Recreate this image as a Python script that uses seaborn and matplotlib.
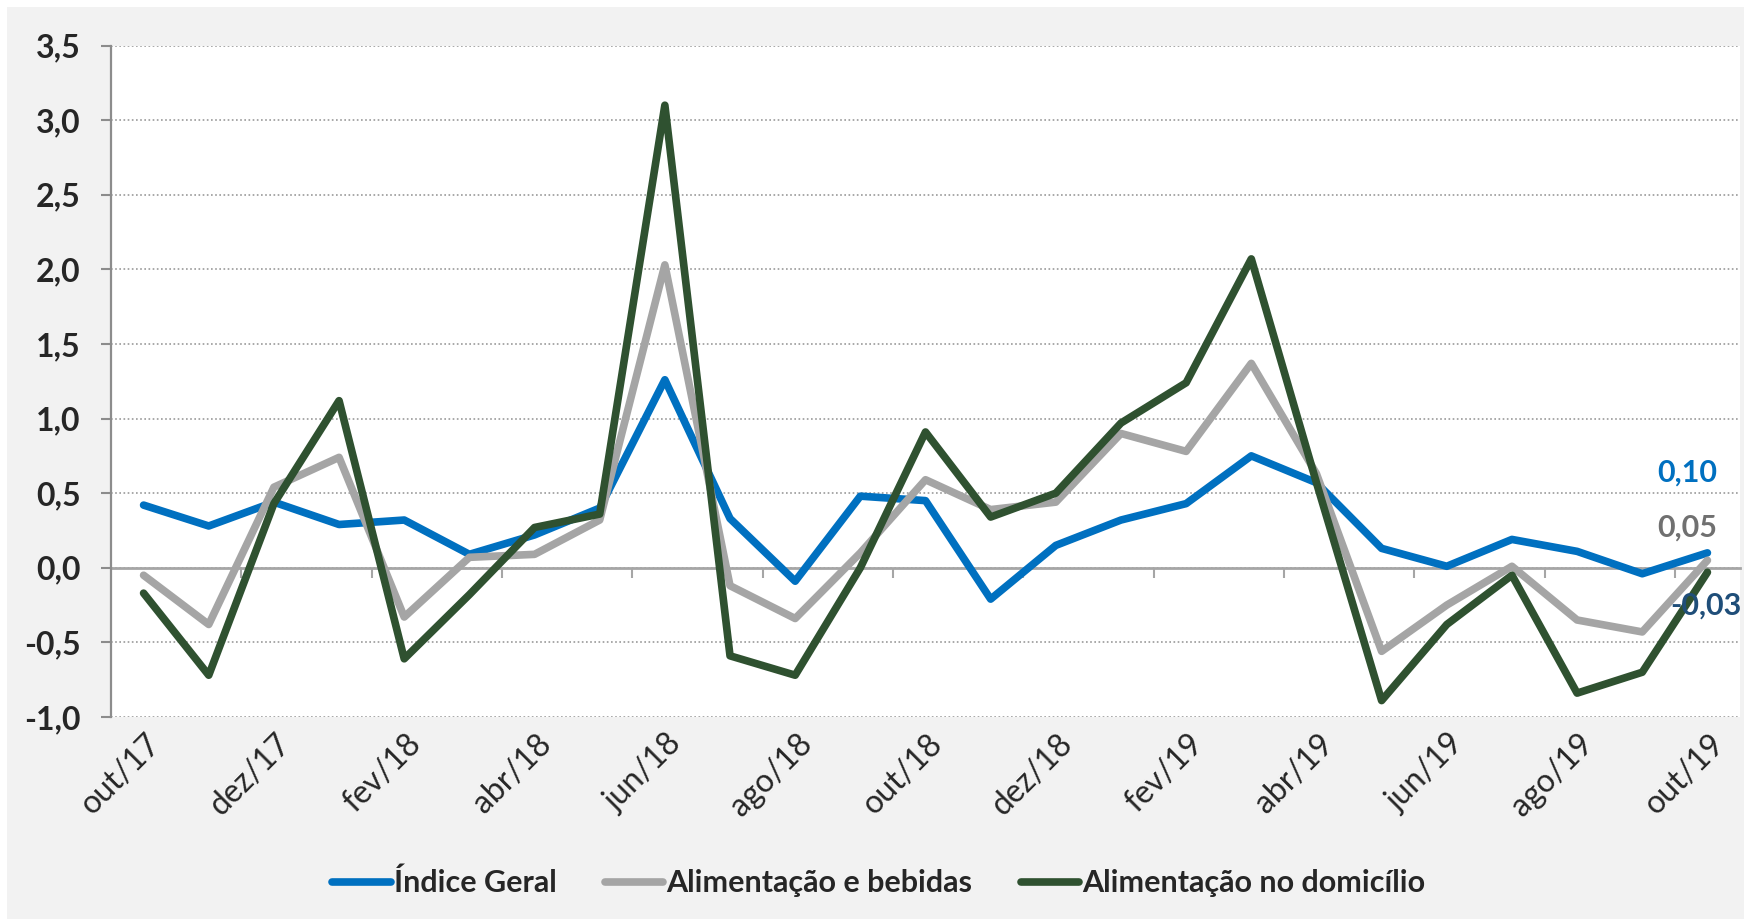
import numpy as np
import pandas as pd
import matplotlib
matplotlib.use("Agg")
import matplotlib.pyplot as plt
import matplotlib.transforms as mtransforms
from matplotlib.patches import Rectangle
import seaborn as sns

# monthly variation (%), out/17 .. out/19
meses = ["out/17", "nov/17", "dez/17", "jan/18", "fev/18", "mar/18", "abr/18",
         "mai/18", "jun/18", "jul/18", "ago/18", "set/18", "out/18", "nov/18",
         "dez/18", "jan/19", "fev/19", "mar/19", "abr/19", "mai/19", "jun/19",
         "jul/19", "ago/19", "set/19", "out/19"]
indice_geral = [0.42, 0.28, 0.44, 0.29, 0.32, 0.09, 0.22, 0.40, 1.26, 0.33, -0.09,
                0.48, 0.45, -0.21, 0.15, 0.32, 0.43, 0.75, 0.57, 0.13, 0.01, 0.19,
                0.11, -0.04, 0.10]
alim_bebidas = [-0.05, -0.38, 0.54, 0.74, -0.33, 0.07, 0.09, 0.32, 2.03, -0.12, -0.34,
                0.10, 0.59, 0.39, 0.44, 0.90, 0.78, 1.37, 0.63, -0.56, -0.25, 0.01,
                -0.35, -0.43, 0.05]
alim_domicilio = [-0.17, -0.72, 0.43, 1.12, -0.61, -0.18, 0.27, 0.36, 3.10, -0.59, -0.72,
                  0.00, 0.91, 0.34, 0.50, 0.97, 1.24, 2.07, 0.57, -0.89, -0.38, -0.05,
                  -0.84, -0.70, -0.03]
series = ["Índice Geral", "Alimentação e bebidas", "Alimentação no domicílio"]
cores = ["#0070C0", "#A5A5A5", "#2F5130"]
rotulo_final = ["0,10", "0,05", "-0,03"]
cor_rotulo = ["#0070C0", "#707070", "#1F4E79"]

df = pd.DataFrame({
    "pos": list(range(len(meses))) * 3,
    "valor": indice_geral + alim_bebidas + alim_domicilio,
    "serie": np.repeat(series, len(meses)),
})

sns.set_style("white")
plt.rcParams["font.family"] = ["Lato", "DejaVu Sans"]

fig = plt.figure(figsize=(17.44, 9.19), dpi=100)
fig.patch.set_facecolor("white")
fig.patches.append(Rectangle((7 / 1744, 0), 1, 1 - 7 / 919, transform=fig.transFigure,
                             facecolor="#F2F2F2", edgecolor="none", zorder=-10))

ax = fig.add_axes([111 / 1744, 1 - 717 / 919, (1740 - 111) / 1744, (717 - 45.5) / 919])
ax.set_facecolor("white")

sns.lineplot(data=df, x="pos", y="valor", hue="serie", hue_order=series,
             palette=cores, linewidth=5.5, ax=ax, legend=False,
             solid_joinstyle="round", solid_capstyle="round")

ax.set_xlim(-0.5, len(meses) - 0.5)
ax.set_ylim(-1.0, 3.5)
ax.set_xlabel("")
ax.set_ylabel("")

# y axis
yt = np.arange(-1.0, 3.51, 0.5)
ax.set_yticks(yt)
ax.set_yticklabels([f"{v:.1f}".replace(".", ",") for v in yt], fontsize=23, fontweight="bold")
ax.tick_params(axis="y", length=7, width=1.5, color="#8C8C8C", pad=15, left=True)
ax.yaxis.grid(True, linestyle=(0, (1, 1.5)), color="#9A9A9A", linewidth=1.2)
for s in ["top", "right", "bottom"]:
    ax.spines[s].set_visible(False)
ax.spines["left"].set_color("#8C8C8C")
ax.spines["left"].set_linewidth(1.6)

# x labels every 2 months
ax.set_xticks(range(0, len(meses), 2))
ax.set_xticklabels(meses[::2], fontsize=23, rotation=45, ha="right", va="center",
                   rotation_mode="anchor")
ax.tick_params(axis="x", length=0, pad=16)
shift = mtransforms.ScaledTranslation(12 / 100, 0, fig.dpi_scale_trans)
for lab in ax.get_xticklabels():
    lab.set_transform(lab.get_transform() + shift)

# zero line with category boundary ticks
zero = ax.secondary_xaxis(1.0 / 4.5)
zero.set_xticks(np.arange(1.5, len(meses) - 1, 2))
zero.tick_params(axis="x", length=7, width=1.5, color="#A6A6A6", labelbottom=False,
                 direction="out")
zero.spines["bottom"].set_color("#A6A6A6")
zero.spines["bottom"].set_linewidth(2)
zero.set_zorder(1)

# labels at the last point
ultimo = len(meses) - 1
vals = [indice_geral[-1], alim_bebidas[-1], alim_domicilio[-1]]
offs = [(10, 80, "right"), (10, 33, "right"), (-37, -33, "left")]
for v, txt, c, (dx, dy, ha) in zip(vals, rotulo_final, cor_rotulo, offs):
    ax.annotate(txt, (ultimo, v), xytext=(dx, dy), textcoords="offset pixels",
                ha=ha, va="center", fontsize=22, fontweight="bold", color=c,
                annotation_clip=False)

# legend
handles = [plt.Line2D([], [], color=c, linewidth=5.5, solid_capstyle="round") for c in cores]
leg = fig.legend(handles, series, loc="center", bbox_to_anchor=(0.504, 1 - 883 / 919),
                 ncol=3, frameon=False, handlelength=1.9, handletextpad=0.1,
                 columnspacing=1.6, prop={"size": 22, "weight": "bold"})

fig.savefig("out.png", dpi=100, facecolor=fig.get_facecolor())
